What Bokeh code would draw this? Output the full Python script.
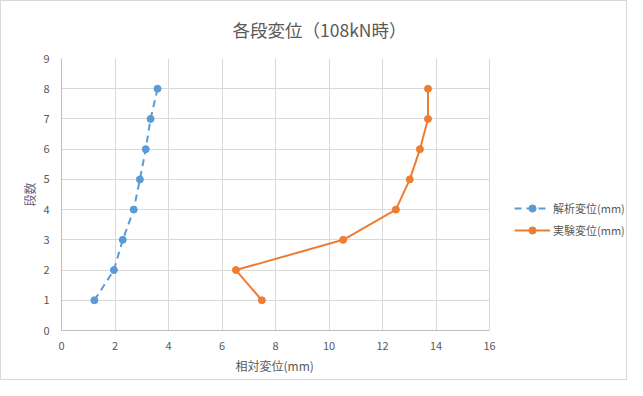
from bokeh.plotting import figure
from bokeh.models import Range1d, FixedTicker, Legend, LegendItem, Title
from bokeh.embed import file_html
from bokeh.resources import INLINE

stories = [1, 2, 3, 4, 5, 6, 7, 8]
analysis_disp = [1.23, 1.96, 2.29, 2.70, 2.93, 3.15, 3.33, 3.59]
experiment_disp = [7.49, 6.52, 10.53, 12.50, 13.02, 13.40, 13.70, 13.70]
x_ticks = [0, 2, 4, 6, 8, 10, 12, 14, 16]
y_ticks = [0, 1, 2, 3, 4, 5, 6, 7, 8, 9]
x_min, x_max = 0, 16
y_min, y_max = 0, 9

FONT = "Noto Sans CJK JP"
GRAY = "#595959"
BLUE = "#5b9bd5"
ORANGE = "#ed7d31"

W, H = 627, 380
LEFT, RIGHT, TOP, BOTTOM = 60, 0, 56, 51
PLOT_W = 428  # pixel width of the 0..16 data area
frame_w = W - LEFT - RIGHT
x_view_end = x_min + (x_max - x_min) * frame_w / PLOT_W

p = figure(width=W, height=H, output_backend="svg", toolbar_location=None,
           x_range=Range1d(x_min, x_view_end), y_range=Range1d(y_min, y_max),
           min_border_left=LEFT, min_border_right=RIGHT,
           min_border_bottom=BOTTOM, min_border_top=TOP,
           title="各段変位（108kN時）")
p.styles = {"border": "1px solid #d9d9d9"}
p.outline_line_color = None
p.background_fill_color = "white"
p.border_fill_color = "white"

p.title.text_font = FONT
p.title.text_font_size = "17.5px"
p.title.text_font_style = "normal"
p.title.text_color = GRAY
p.title.align = "left"
p.title.offset = 171
p.title.vertical_align = "top"
p.title.standoff = 30

for ax in (p.xaxis[0], p.yaxis[0]):
    ax.major_tick_line_color = None
    ax.minor_tick_line_color = None
    ax.axis_line_color = "#bfbfbf"
    ax.major_label_text_font = FONT
    ax.major_label_text_font_size = "11px"
    ax.major_label_text_color = GRAY
    ax.axis_label_text_font = FONT
    ax.axis_label_text_font_size = "12px"
    ax.axis_label_text_font_style = "normal"
    ax.axis_label_text_color = GRAY

p.xaxis.ticker = FixedTicker(ticks=x_ticks)
p.yaxis.ticker = FixedTicker(ticks=y_ticks)
p.xaxis.bounds = (x_min, x_max)
p.yaxis.axis_label = "段数"
p.yaxis.axis_label_text_color = "#6a5f80"
p.xaxis.major_label_standoff = 5
p.yaxis.major_label_standoff = 6
p.yaxis.axis_label_standoff = 2

xlabel = Title(text="相対変位(mm)", align="left", offset=174,
               text_font=FONT, text_font_size="12px", text_font_style="normal",
               text_color=GRAY, standoff=4)
p.add_layout(xlabel, "below")

p.xgrid.ticker = FixedTicker(ticks=x_ticks)
p.ygrid.ticker = FixedTicker(ticks=y_ticks)
p.xgrid.grid_line_color = "#d9d9d9"
ygrid = p.ygrid[0]
if "cross_bounds" in ygrid.properties():
    ygrid.cross_bounds = (x_min, x_max)
    ygrid.grid_line_color = "#d9d9d9"
else:
    ygrid.grid_line_color = None
    p.segment(x0=[x_min] * len(y_ticks), x1=[x_max] * len(y_ticks),
              y0=y_ticks, y1=y_ticks, line_color="#d9d9d9", line_width=1)

l1 = p.line(analysis_disp, stories, line_color=BLUE, line_width=2, line_dash="7 5")
c1 = p.scatter(analysis_disp, stories, size=7, fill_color=BLUE, line_color=BLUE)
l2 = p.line(experiment_disp, stories, line_color=ORANGE, line_width=2)
c2 = p.scatter(experiment_disp, stories, size=7, fill_color=ORANGE, line_color=ORANGE)

legend = Legend(items=[LegendItem(label="解析変位(mm)", renderers=[l1, c1]),
                       LegendItem(label="実験変位(mm)", renderers=[l2, c2])],
                location=(453, 91))
legend.label_text_font = FONT
legend.label_text_font_size = "11px"
legend.label_text_color = GRAY
legend.border_line_color = None
legend.background_fill_alpha = 0
legend.glyph_width = 36
legend.glyph_height = 18
legend.label_standoff = 3
legend.spacing = 4
legend.padding = 0
legend.margin = 0
p.add_layout(legend)

open("out.html", "w").write(file_html(p, INLINE))
